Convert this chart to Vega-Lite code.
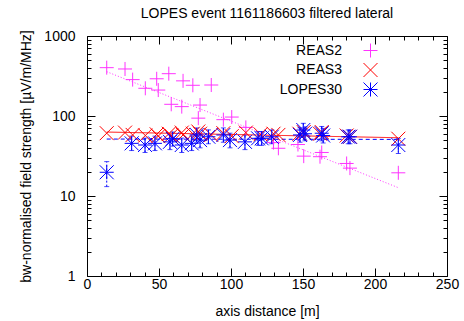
{
  "$schema": "https://vega.github.io/schema/vega-lite/v6.json",
  "width": 360,
  "height": 240,
  "autosize": {"type": "none"},
  "padding": {"left": 87, "top": 36, "right": 17, "bottom": 45},
  "background": "white",
  "title": {"text": "LOPES event 1161186603 filtered lateral", "font": "Liberation Sans", "fontSize": 14, "fontWeight": "normal", "offset": 8, "color": "black"},
  "config": {
    "view": {"stroke": "black", "strokeWidth": 1},
    "axis": {"domain": false, "grid": false, "tickColor": "black", "labelFont": "Liberation Sans", "labelFontSize": 14, "labelColor": "black", "titleFont": "Liberation Sans", "titleFontSize": 14, "titleFontWeight": "normal", "titleColor": "black", "labelOverlap": false, "labelFlush": false}
  },
  "datasets": {
    "pts": [
      {"series": "REAS2", "d": 13.7, "v": 402},
      {"series": "REAS2", "d": 26.4, "v": 387},
      {"series": "REAS2", "d": 31.7, "v": 285},
      {"series": "REAS2", "d": 40.5, "v": 222},
      {"series": "REAS2", "d": 48.4, "v": 292},
      {"series": "REAS2", "d": 49.5, "v": 211},
      {"series": "REAS2", "d": 56.8, "v": 338},
      {"series": "REAS2", "d": 58.5, "v": 140},
      {"series": "REAS2", "d": 65.8, "v": 131},
      {"series": "REAS2", "d": 66.7, "v": 275},
      {"series": "REAS2", "d": 73.5, "v": 242},
      {"series": "REAS2", "d": 77.3, "v": 94},
      {"series": "REAS2", "d": 78.5, "v": 137},
      {"series": "REAS2", "d": 86.3, "v": 244},
      {"series": "REAS2", "d": 94.7, "v": 90},
      {"series": "REAS2", "d": 100.5, "v": 97},
      {"series": "REAS2", "d": 110.3, "v": 72},
      {"series": "REAS2", "d": 129.5, "v": 46.5},
      {"series": "REAS2", "d": 132.9, "v": 39.5},
      {"series": "REAS2", "d": 146.5, "v": 44},
      {"series": "REAS2", "d": 150.5, "v": 31.5},
      {"series": "REAS2", "d": 163, "v": 35},
      {"series": "REAS2", "d": 161.8, "v": 31},
      {"series": "REAS2", "d": 180.3, "v": 25.5},
      {"series": "REAS2", "d": 182.6, "v": 22.3},
      {"series": "REAS2", "d": 216.2, "v": 19.5},
      {"series": "REAS3", "d": 13.7, "v": 61},
      {"series": "REAS3", "d": 26.4, "v": 62},
      {"series": "REAS3", "d": 31.7, "v": 58},
      {"series": "REAS3", "d": 40.5, "v": 57},
      {"series": "REAS3", "d": 48.4, "v": 59},
      {"series": "REAS3", "d": 49.5, "v": 56},
      {"series": "REAS3", "d": 56.8, "v": 60},
      {"series": "REAS3", "d": 58.5, "v": 57},
      {"series": "REAS3", "d": 65.8, "v": 62},
      {"series": "REAS3", "d": 66.7, "v": 58},
      {"series": "REAS3", "d": 73.5, "v": 60},
      {"series": "REAS3", "d": 77.3, "v": 64},
      {"series": "REAS3", "d": 78.5, "v": 60},
      {"series": "REAS3", "d": 86.3, "v": 58},
      {"series": "REAS3", "d": 94.7, "v": 61},
      {"series": "REAS3", "d": 100.5, "v": 56},
      {"series": "REAS3", "d": 110.3, "v": 62},
      {"series": "REAS3", "d": 120.5, "v": 59},
      {"series": "REAS3", "d": 129.5, "v": 60},
      {"series": "REAS3", "d": 132.9, "v": 58},
      {"series": "REAS3", "d": 147.5, "v": 60},
      {"series": "REAS3", "d": 150.5, "v": 63},
      {"series": "REAS3", "d": 163, "v": 63},
      {"series": "REAS3", "d": 161.8, "v": 60},
      {"series": "REAS3", "d": 180.3, "v": 57},
      {"series": "REAS3", "d": 182.6, "v": 55},
      {"series": "REAS3", "d": 216.2, "v": 52},
      {"series": "LOPES30", "d": 13.7, "v": 19.8, "lo": 13.1, "hi": 26.9},
      {"series": "LOPES30", "d": 31, "v": 45.5, "lo": 37, "hi": 56},
      {"series": "LOPES30", "d": 40.3, "v": 43.4, "lo": 35, "hi": 53},
      {"series": "LOPES30", "d": 47.2, "v": 45.5, "lo": 37, "hi": 56},
      {"series": "LOPES30", "d": 57.6, "v": 47.5, "lo": 38, "hi": 58},
      {"series": "LOPES30", "d": 59.5, "v": 52, "lo": 42, "hi": 63},
      {"series": "LOPES30", "d": 65.8, "v": 43.4, "lo": 35, "hi": 53},
      {"series": "LOPES30", "d": 72.7, "v": 45.5, "lo": 37, "hi": 56},
      {"series": "LOPES30", "d": 76.2, "v": 58, "lo": 47, "hi": 71},
      {"series": "LOPES30", "d": 78.5, "v": 50, "lo": 40, "hi": 61},
      {"series": "LOPES30", "d": 84.3, "v": 55, "lo": 45, "hi": 67},
      {"series": "LOPES30", "d": 94.7, "v": 57.9, "lo": 47, "hi": 71},
      {"series": "LOPES30", "d": 99.3, "v": 50, "lo": 40, "hi": 61},
      {"series": "LOPES30", "d": 109.7, "v": 47.5, "lo": 38, "hi": 58},
      {"series": "LOPES30", "d": 118.8, "v": 52.6, "lo": 43, "hi": 64},
      {"series": "LOPES30", "d": 121.3, "v": 52.6, "lo": 43, "hi": 64},
      {"series": "LOPES30", "d": 128.3, "v": 55, "lo": 45, "hi": 67},
      {"series": "LOPES30", "d": 147.9, "v": 58, "lo": 47, "hi": 71},
      {"series": "LOPES30", "d": 150.2, "v": 66.8, "lo": 54, "hi": 81},
      {"series": "LOPES30", "d": 151.4, "v": 60, "lo": 49, "hi": 73},
      {"series": "LOPES30", "d": 163, "v": 60.9, "lo": 49, "hi": 74},
      {"series": "LOPES30", "d": 164, "v": 57, "lo": 46, "hi": 70},
      {"series": "LOPES30", "d": 181.4, "v": 55, "lo": 45, "hi": 67},
      {"series": "LOPES30", "d": 182.6, "v": 55, "lo": 45, "hi": 67},
      {"series": "LOPES30", "d": 216.2, "v": 43.4, "lo": 34, "hi": 52.6}
    ],
    "fit": [
      {"fit": "REAS2 fit", "d": 13.7, "v": 358},
      {"fit": "REAS2 fit", "d": 216.2, "v": 12.7},
      {"fit": "REAS3 fit", "d": 13.7, "v": 63},
      {"fit": "REAS3 fit", "d": 216.2, "v": 53.5},
      {"fit": "LOPES30 fit", "d": 13.7, "v": 51.5},
      {"fit": "LOPES30 fit", "d": 216.2, "v": 51}
    ]
  },
  "resolve": {"axis": {"x": "independent", "y": "independent"}},
  "layer": [
    {
      "data": {"name": "pts"},
      "transform": [{"filter": "datum.series == 'LOPES30'"}],
      "mark": {"type": "rule", "color": "#0000ff", "strokeDash": [2, 2], "strokeWidth": 1},
      "encoding": {
        "x": {"field": "d", "type": "quantitative", "scale": {"domain": [0, 250], "nice": false, "zero": false}, "axis": null},
        "y": {"field": "lo", "type": "quantitative", "scale": {"type": "log", "domain": [1, 1000], "nice": false}, "axis": null},
        "y2": {"field": "hi"}
      }
    },
    {
      "data": {"name": "pts"},
      "transform": [{"filter": "datum.series == 'LOPES30'"}],
      "mark": {"type": "tick", "orient": "horizontal", "color": "#0000ff", "size": 5, "thickness": 1, "opacity": 0.7},
      "encoding": {
        "x": {"field": "d", "type": "quantitative", "axis": null},
        "y": {"field": "lo", "type": "quantitative", "axis": null}
      }
    },
    {
      "data": {"name": "pts"},
      "transform": [{"filter": "datum.series == 'LOPES30'"}],
      "mark": {"type": "tick", "orient": "horizontal", "color": "#0000ff", "size": 5, "thickness": 1, "opacity": 0.7},
      "encoding": {
        "x": {"field": "d", "type": "quantitative", "axis": null},
        "y": {"field": "hi", "type": "quantitative", "axis": null}
      }
    },
    {
      "data": {"name": "fit"},
      "mark": {"type": "line", "strokeWidth": 1},
      "encoding": {
        "x": {"field": "d", "type": "quantitative", "axis": {"orient": "top", "values": [0,10,20,30,40,50,60,70,80,90,100,110,120,130,140,150,160,170,180,190,200,210,220,230,240,250], "labels": false, "title": null, "tickSize": {"condition": {"test": "datum.value % 50 == 0", "value": -8}, "value": -4}}},
        "y": {"field": "v", "type": "quantitative", "axis": {"orient": "right", "values": [1,2,3,4,5,6,7,8,9,10,20,30,40,50,60,70,80,90,100,200,300,400,500,600,700,800,900,1000], "labels": false, "title": null, "tickSize": {"condition": {"test": "indexof([1,10,100,1000], datum.value) >= 0", "value": -8}, "value": -4}}},
        "stroke": {"field": "fit", "type": "nominal", "scale": {"domain": ["REAS2 fit", "REAS3 fit", "LOPES30 fit"], "range": ["#ff33ff", "#ff0000", "#0000ff"]}, "legend": null},
        "strokeDash": {"field": "fit", "type": "nominal", "scale": {"domain": ["REAS2 fit", "REAS3 fit", "LOPES30 fit"], "range": [[1, 2], [1, 0], [4, 3]]}, "legend": null}
      }
    },
    {
      "data": {"name": "pts"},
      "mark": {"type": "point", "filled": false, "strokeWidth": 1, "size": 196, "opacity": 1},
      "encoding": {
        "x": {"field": "d", "type": "quantitative", "axis": {"orient": "bottom", "values": [0,10,20,30,40,50,60,70,80,90,100,110,120,130,140,150,160,170,180,190,200,210,220,230,240,250], "labelExpr": "datum.value % 50 == 0 ? datum.label : ''", "title": "axis distance [m]", "tickSize": {"condition": {"test": "datum.value % 50 == 0", "value": -8}, "value": -4}, "labelPadding": 9, "titlePadding": 9}},
        "y": {"field": "v", "type": "quantitative", "axis": {"orient": "left", "values": [1,2,3,4,5,6,7,8,9,10,20,30,40,50,60,70,80,90,100,200,300,400,500,600,700,800,900,1000], "labelExpr": "indexof([1,10,100,1000], datum.value) >= 0 ? format(datum.value, 'd') : ''", "title": "bw-normalised field strength [µV/m/MHz]", "tickSize": {"condition": {"test": "indexof([1,10,100,1000], datum.value) >= 0", "value": -8}, "value": -4}, "labelPadding": 20, "titlePadding": 10}},
        "color": {"field": "series", "type": "nominal", "scale": {"domain": ["REAS2", "REAS3", "LOPES30"], "range": ["#ff33ff", "#ff0000", "#0000ff"]},
          "legend": {"orient": "none", "legendX": 276, "legendY": 7, "title": null, "labelFont": "Liberation Sans", "labelFontSize": 14, "labelColor": "black", "labelAlign": "right", "labelOffset": -36, "rowPadding": 0.5, "symbolSize": 196, "symbolStrokeWidth": 1, "labelLimit": 300,
            "encode": {"symbols": {"shape": {"signal": "datum.value == 'LOPES30' ? 'M-1,0L1,0M0,-1L0,1M-1,-1L1,1M-1,1L1,-1M-3.2,0L-2.6,0M-2.2,0L-1.6,0M-1.2,0L-1,0M1,0L1.2,0M1.6,0L2.2,0M2.6,0L3.2,0M-3.2,-0.4L-3.2,0.4M3.2,-0.4L3.2,0.4' : datum.value == 'REAS3' ? 'M-1,-1L1,1M-1,1L1,-1' : 'M-1,0L1,0M0,-1L0,1'"}}}}},
        "shape": {"field": "series", "type": "nominal", "scale": {"domain": ["REAS2", "REAS3", "LOPES30"], "range": ["M-1,0L1,0M0,-1L0,1", "M-1,-1L1,1M-1,1L1,-1", "M-1,0L1,0M0,-1L0,1M-1,-1L1,1M-1,1L1,-1"]}}
      }
    }
  ]
}
